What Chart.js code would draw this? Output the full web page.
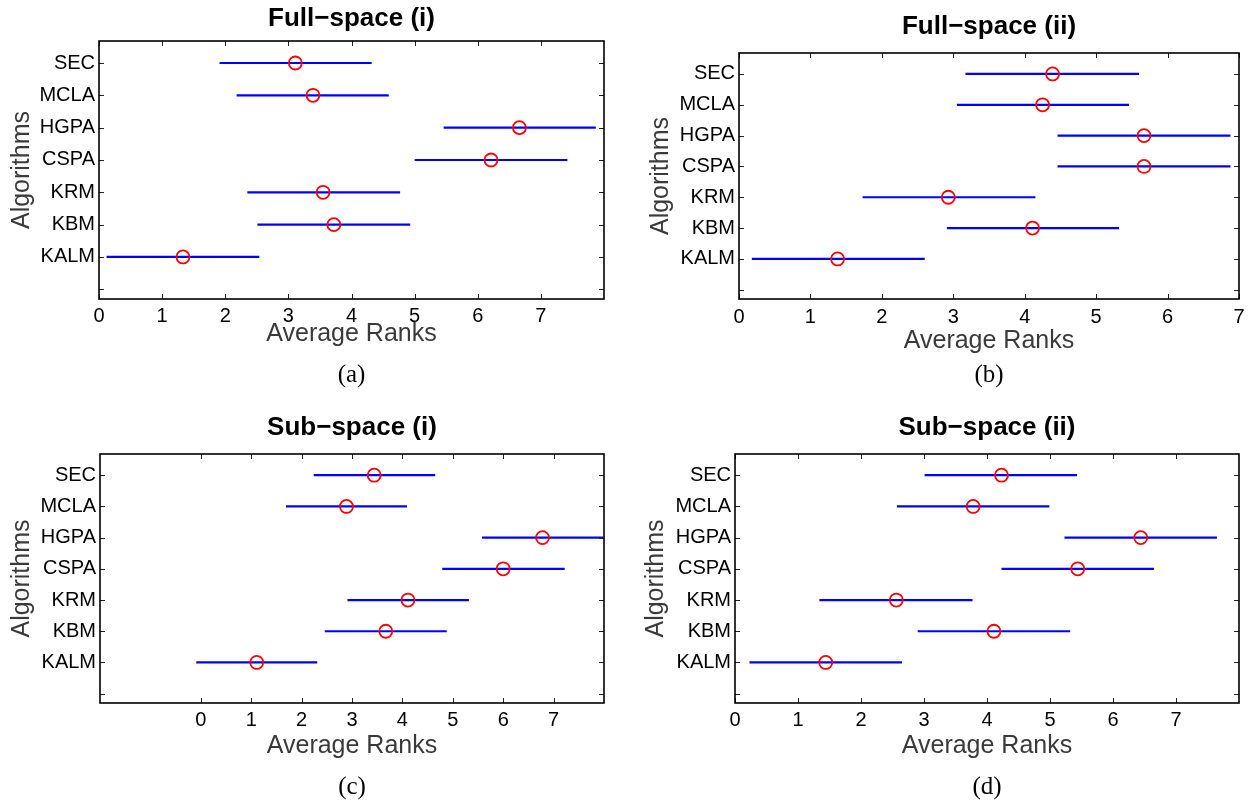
<!DOCTYPE html>
<html>
<head>
<meta charset="utf-8">
<title>Average ranks</title>
<script src="https://cdn.jsdelivr.net/npm/chart.js@4.4.1/dist/chart.umd.min.js"></script>
<style>
  html, body { margin: 0; padding: 0; background: #fff; }
  #page { position: relative; width: 1256px; height: 801px; overflow: hidden; background: #fff; }
  .panel { position: absolute; }
</style>
</head>
<body>
<div id="page">
  <div class="panel" style="left:0px;top:0px"><canvas id="chartA" width="628" height="400"></canvas></div>
  <div class="panel" style="left:628px;top:0px"><canvas id="chartB" width="628" height="400"></canvas></div>
  <div class="panel" style="left:0px;top:400px"><canvas id="chartC" width="628" height="401"></canvas></div>
  <div class="panel" style="left:628px;top:400px"><canvas id="chartD" width="628" height="401"></canvas></div>
</div>
<script>
// algorithms from bottom (y = 1) to top (y = 7); y = 0 is an empty tick
const algorithms = ['KALM', 'KBM', 'KRM', 'CSPA', 'HGPA', 'MCLA', 'SEC'];
const yTickLabels = [''].concat(algorithms);
const yTicks = [0, 1, 2, 3, 4, 5, 6, 7];
const xTicks = [0, 1, 2, 3, 4, 5, 6, 7];

// (a) Full-space (i)
const meanA = [1.33, 3.72, 3.55, 6.21, 6.66, 3.39, 3.11];
const lowA  = [0.12, 2.51, 2.35, 5.00, 5.46, 2.18, 1.91];
const highA = [2.54, 4.93, 4.77, 7.42, 7.87, 4.59, 4.32];

// (b) Full-space (ii)
const meanB = [1.38, 4.11, 2.93, 5.67, 5.67, 4.25, 4.39];
const lowB  = [0.18, 2.91, 1.73, 4.46, 4.46, 3.05, 3.17];
const highB = [2.60, 5.32, 4.15, 6.88, 6.88, 5.46, 5.60];

// (c) Sub-space (i)
const meanC = [1.11, 3.67, 4.11, 6.00, 6.78, 2.89, 3.44];
const lowC  = [-0.09, 2.46, 2.91, 4.79, 5.58, 1.69, 2.24];
const highC = [2.31, 4.88, 5.32, 7.22, 7.99, 4.09, 4.65];

// (d) Sub-space (ii)
const meanD = [1.44, 4.11, 2.56, 5.44, 6.44, 3.78, 4.23];
const lowD  = [0.23, 2.90, 1.34, 4.23, 5.23, 2.57, 3.01];
const highD = [2.65, 5.32, 3.77, 6.65, 7.65, 4.99, 5.43];

const SANS = '"Liberation Sans", Arial, Helvetica, sans-serif';
const SERIF = '"Liberation Serif", "Times New Roman", serif';

// draws the axes box and MATLAB-style inward ticks on all four sides
const framePlugin = {
    id: 'frame',
    afterDraw(chart) {
        const { ctx, chartArea: a, scales: { x, y } } = chart;
        ctx.save();
        ctx.strokeStyle = '#222';
        ctx.lineWidth = 1;
        ctx.beginPath();
        x.ticks.forEach((t) => {
            const px = Math.round(x.getPixelForValue(t.value)) + 0.5;
            ctx.moveTo(px, a.bottom); ctx.lineTo(px, a.bottom - 5);
            ctx.moveTo(px, a.top); ctx.lineTo(px, a.top + 5);
        });
        y.ticks.forEach((t) => {
            const py = Math.round(y.getPixelForValue(t.value)) + 0.5;
            ctx.moveTo(a.left, py); ctx.lineTo(a.left + 5, py);
            ctx.moveTo(a.right, py); ctx.lineTo(a.right - 5, py);
        });
        ctx.stroke();
        ctx.lineWidth = 1.6;
        ctx.strokeStyle = '#000';
        ctx.strokeRect(a.left, a.top, a.right - a.left, a.bottom - a.top);
        ctx.restore();
    },
};

function renderPanel(canvasId, p) {
    const titleLH = 26 * 1.2;
    const capLH = 25 * 1.2;
    const axisLH = 25 * 1.2;
    const tickLH = 20 * 1.2;

    const titleTop = p.titleY - titleLH / 2;
    const capBottom = p.height - p.capY - capLH / 2;
    const capTop = 2;
    const capBox = capLH + capTop + capBottom;
    const xAxisH = p.height - capBox - p.area.bottom;

    return new Chart(document.getElementById(canvasId), {
        type: 'scatter',
        data: {
            datasets: [
                {
                    type: 'scatter',
                    label: 'Average rank',
                    data: p.mean.map((m, i) => ({ x: m, y: i + 1 })),
                    pointStyle: 'circle',
                    pointRadius: 6.5,
                    pointHoverRadius: 6.5,
                    pointBorderWidth: 1.8,
                    borderColor: '#ff0000',
                    backgroundColor: 'rgba(0,0,0,0)',
                    order: 0,
                },
                {
                    type: 'bar',
                    label: 'Interval',
                    indexAxis: 'y',
                    data: p.low.map((lo, i) => ({ y: i + 1, x: [lo, p.high[i]] })),
                    backgroundColor: '#0000ff',
                    borderWidth: 0,
                    inflateAmount: 0,
                    barThickness: 2.2,
                    order: 1,
                },
            ],
        },
        options: {
            responsive: false,
            animation: false,
            events: [],
            layout: {
                autoPadding: false,
                padding: { left: 0, right: p.width - p.area.right, top: 0, bottom: 0 },
            },
            plugins: {
                legend: { display: false },
                tooltip: { enabled: false },
                title: {
                    display: true,
                    fullSize: false,
                    text: p.title,
                    color: '#000',
                    font: { family: SANS, size: 26, weight: 'bold', lineHeight: 1.2 },
                    padding: { top: titleTop, bottom: p.area.top - titleTop - titleLH },
                },
                subtitle: {
                    display: true,
                    fullSize: false,
                    position: 'bottom',
                    text: p.caption,
                    color: '#000',
                    font: { family: SERIF, size: 25, weight: 'normal', lineHeight: 1.2 },
                    padding: { top: capTop, bottom: capBottom },
                },
            },
            scales: {
                x: {
                    type: 'linear',
                    position: 'bottom',
                    min: p.xMin,
                    max: p.xMax,
                    offset: false,
                    afterBuildTicks: (s) => { s.ticks = xTicks.map((v) => ({ value: v })); },
                    afterFit: (s) => { s.height = xAxisH; },
                    grid: { display: false, drawTicks: false },
                    border: { display: false },
                    ticks: {
                        color: '#000',
                        font: { family: SANS, size: 20, lineHeight: 1.2 },
                        padding: p.tickY - p.area.bottom - tickLH / 2,
                        maxRotation: 0,
                        autoSkip: false,
                    },
                    title: {
                        display: true,
                        text: 'Average Ranks',
                        color: '#3a3a3a',
                        font: { family: SANS, size: 25, lineHeight: 1.2 },
                        padding: { top: 0, bottom: p.area.bottom + xAxisH - p.xTitleY - axisLH / 2 },
                    },
                },
                y: {
                    type: 'linear',
                    position: 'left',
                    min: -0.3,
                    max: 7.68,
                    offset: false,
                    afterBuildTicks: (s) => { s.ticks = yTicks.map((v) => ({ value: v })); },
                    afterFit: (s) => { s.width = p.area.left; },
                    grid: { display: false, drawTicks: false },
                    border: { display: false },
                    ticks: {
                        color: '#000',
                        font: { family: SANS, size: 20, lineHeight: 1.2 },
                        padding: 4,
                        autoSkip: false,
                        callback: (v) => yTickLabels[v],
                    },
                    title: {
                        display: true,
                        text: 'Algorithms',
                        color: '#3a3a3a',
                        font: { family: SANS, size: 25, lineHeight: 1.2 },
                        padding: { top: p.yTitleX - axisLH / 2, bottom: 0 },
                    },
                },
            },
        },
        plugins: [framePlugin],
    });
}

renderPanel('chartA', {
    title: 'Full\u2212space (i)', caption: '(a)',
    mean: meanA, low: lowA, high: highA, xMin: 0, xMax: 8,
    width: 628, height: 400,
    area: { left: 99, right: 604, top: 41, bottom: 299 },
    titleY: 19, tickY: 316, xTitleY: 334, yTitleX: 22, capY: 375,
});

renderPanel('chartB', {
    title: 'Full\u2212space (ii)', caption: '(b)',
    mean: meanB, low: lowB, high: highB, xMin: 0, xMax: 7,
    width: 628, height: 400,
    area: { left: 111, right: 611, top: 53, bottom: 299 },
    titleY: 27, tickY: 317, xTitleY: 341, yTitleX: 33, capY: 375,
});

renderPanel('chartC', {
    title: 'Sub\u2212space (i)', caption: '(c)',
    mean: meanC, low: lowC, high: highC, xMin: -2, xMax: 8,
    width: 628, height: 401,
    area: { left: 100, right: 604, top: 54, bottom: 303 },
    titleY: 28, tickY: 320, xTitleY: 346, yTitleX: 22, capY: 387,
});

renderPanel('chartD', {
    title: 'Sub\u2212space (ii)', caption: '(d)',
    mean: meanD, low: lowD, high: highD, xMin: 0, xMax: 8,
    width: 628, height: 401,
    area: { left: 107, right: 611, top: 54, bottom: 303 },
    titleY: 28, tickY: 320, xTitleY: 346, yTitleX: 28, capY: 387,
});
</script>
</body>
</html>
